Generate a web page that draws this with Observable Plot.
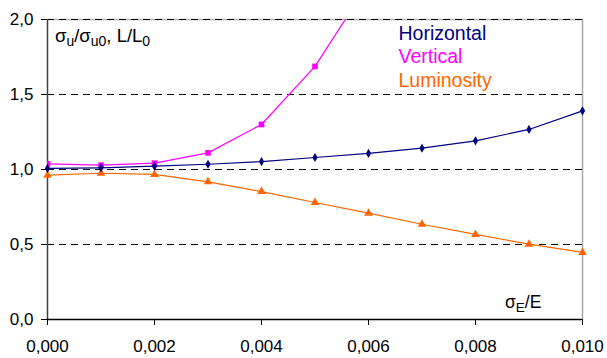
<!DOCTYPE html>
<html>
<head>
<meta charset="utf-8">
<script src="https://cdn.jsdelivr.net/npm/d3@7"></script>
<script src="https://cdn.jsdelivr.net/npm/@observablehq/plot@0.6"></script>
<style>
  html, body { margin: 0; padding: 0; background: white; }
  #chart svg { display: block; }
</style>
</head>
<body>
<div id="chart"></div>
<script>
// ---- data ----
const xValues = [0, 0.001, 0.002, 0.003, 0.004, 0.005, 0.006, 0.007, 0.008, 0.009, 0.010];
const horizontal = [1.007, 1.011, 1.022, 1.035, 1.053, 1.080, 1.107, 1.142, 1.191, 1.267, 1.391];
const vertical = [1.038, 1.029, 1.042, 1.111, 1.300, 1.687, 2.240];
const luminosity = [0.962, 0.975, 0.967, 0.918, 0.853, 0.780, 0.709, 0.635, 0.567, 0.502, 0.447];
const xTicks = [0, 0.002, 0.004, 0.006, 0.008, 0.010];
const yTicks = [0, 0.5, 1.0, 1.5, 2.0];
const gridValues = [0.5, 1.0, 1.5, 2.0];
const seriesNames = ["Horizontal", "Vertical", "Luminosity"];
const seriesColors = ["#000080", "#FF00FF", "#FF6600"];

// ---- build tables ----
const hData = horizontal.map((v, i) => ({x: xValues[i], y: v}));
const vData = vertical.map((v, i) => ({x: xValues[i], y: v}));
const lData = luminosity.map((v, i) => ({x: xValues[i], y: v}));

const comma = (d, n) => d.toFixed(n).replace(".", ",");
const font = "'Liberation Sans', Arial, Helvetica, sans-serif";

const chart = Plot.plot({
  width: 607,
  height: 358,
  marginLeft: 47,
  marginRight: 25,
  marginTop: 19,
  marginBottom: 39,
  style: {fontFamily: font, fontSize: "17px", background: "white", color: "black"},
  x: {domain: [0, 0.01]},
  y: {domain: [0, 2]},
  marks: [
    Plot.ruleY([2], {stroke: "#b3b3b3", strokeWidth: 1.5}),
    Plot.ruleX([0.01], {stroke: "#a6a6a6", strokeWidth: 1.5}),
    Plot.ruleY(gridValues, {stroke: "black", strokeDasharray: "7,5", strokeWidth: 1}),
    Plot.ruleX([0], {stroke: "#404040", strokeWidth: 1.5}),
    Plot.ruleY([0], {stroke: "black", strokeWidth: 1.5}),
    Plot.axisX({ticks: xTicks, tickFormat: d => comma(d, 3), tickSize: 6, tickPadding: 14, label: null, stroke: "black", fontSize: 17}),
    Plot.axisY({ticks: yTicks, tickFormat: d => comma(d, 1), tickSize: 6, tickPadding: 8, label: null, stroke: "black", fontSize: 17}),
    Plot.line(lData, {x: "x", y: "y", stroke: seriesColors[2], strokeWidth: 1.2}),
    Plot.dot(lData, {x: "x", y: "y", symbol: "triangle", r: 3.2, fill: seriesColors[2]}),
    Plot.line(vData, {x: "x", y: "y", stroke: seriesColors[1], strokeWidth: 1.2, clip: true}),
    Plot.dot(vData, {x: "x", y: "y", symbol: "square", r: 3.2, fill: seriesColors[1], clip: true}),
    Plot.line(hData, {x: "x", y: "y", stroke: seriesColors[0], strokeWidth: 1.2}),
    Plot.dot(hData, {x: "x", y: "y", symbol: "diamond", r: 2.8, fill: seriesColors[0]}),
    ...seriesNames.map((name, i) =>
      Plot.text([name], {text: d => d, frameAnchor: "top-left", dx: 351, dy: 14 + i * 23.5, textAnchor: "start", lineAnchor: "middle", fill: seriesColors[i], fontSize: 19.5})
    )
  ]
});

document.getElementById("chart").appendChild(chart);

// axis titles with subscripts
const svg = d3.select(chart);
const yt = svg.append("text")
  .attr("x", 55).attr("y", 42).attr("text-anchor", "start")
  .attr("font-family", font).attr("font-size", 18.5).attr("fill", "black");
yt.append("tspan").text("σ");
yt.append("tspan").text("u").attr("font-size", 14).attr("dy", 4);
yt.append("tspan").text("/σ").attr("dy", -4);
yt.append("tspan").text("u0").attr("font-size", 14).attr("dy", 4);
yt.append("tspan").text(", L/L").attr("dy", -4);
yt.append("tspan").text("0").attr("font-size", 14).attr("dy", 4);

const xt = svg.append("text")
  .attr("x", 505).attr("y", 308).attr("text-anchor", "start")
  .attr("font-family", font).attr("font-size", 17.5).attr("fill", "black");
xt.append("tspan").text("σ");
xt.append("tspan").text("E").attr("font-size", 13.5).attr("dy", 4);
xt.append("tspan").text("/E").attr("dy", -4);
</script>
</body>
</html>
